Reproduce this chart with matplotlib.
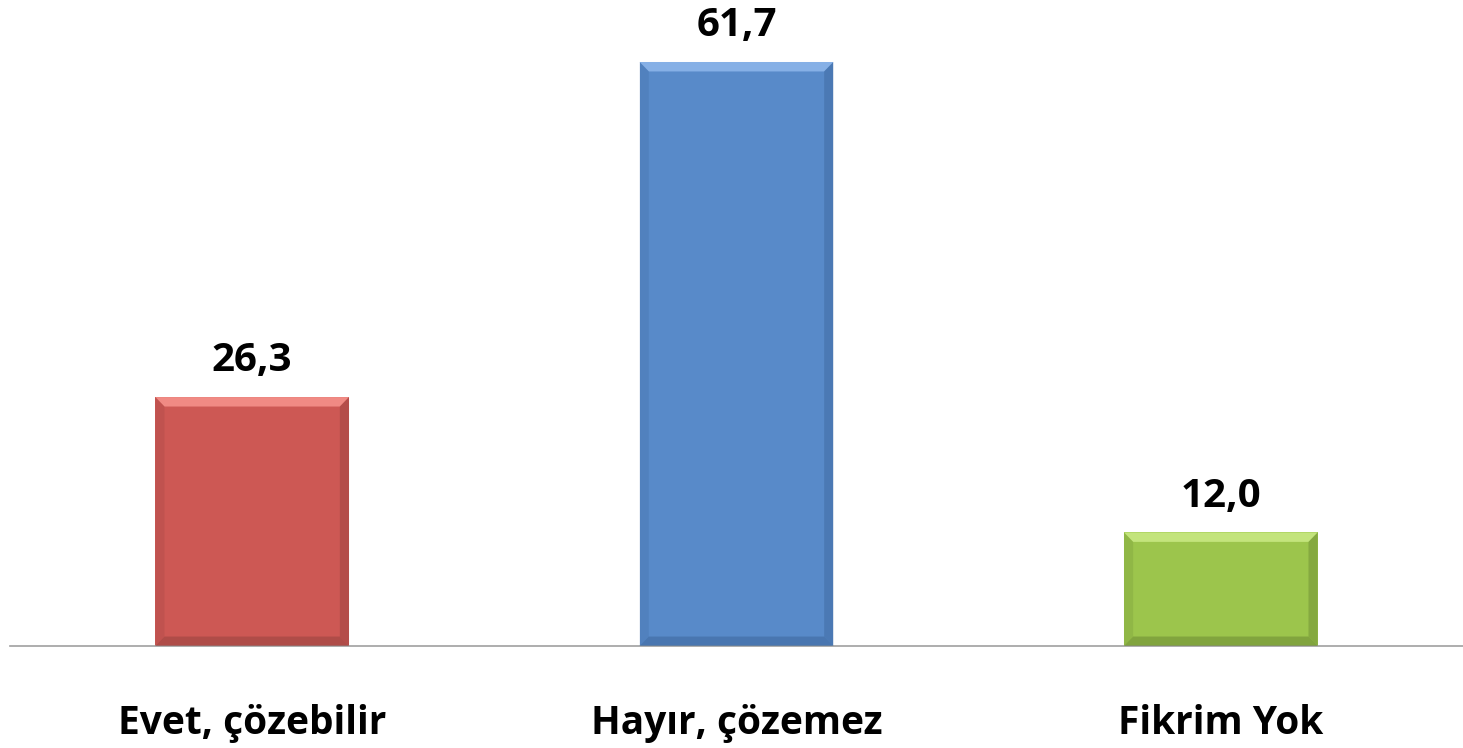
import matplotlib.pyplot as plt
from matplotlib.patches import Polygon
import numpy as np

# Veriler
categories = ["Evet, çözebilir", "Hayır, çözemez", "Fikrim Yok"]
values = [26.3, 61.7, 12.0]
labels = ["26,3", "61,7", "12,0"]
colors = ["#cd5854", "#588ac9", "#9cc54c"]
light = ["#f08a84", "#86b0e6", "#c3e47c"]
dark = ["#9c4441", "#3f6aa0", "#6f8e35"]

plt.rcParams['font.family'] = ['Open Sans', 'DejaVu Sans']

fig = plt.figure(figsize=(14.63, 7.48), dpi=100)
ax = fig.add_axes([10 / 1463, 102 / 748, 1 - 10 / 1463, 646 / 748])

x = np.arange(len(categories))
width = 0.4
bars = ax.bar(x, values, width=width, color=colors, zorder=2)
ax.set_xlim(-0.5, 2.5)
ax.set_ylim(0, 68.25)

# bevel efekti
bx = 0.019
by = 1.0
for i, b in enumerate(bars):
    x0 = b.get_x()
    x1 = x0 + b.get_width()
    h = b.get_height()
    # üst kenar (açık)
    ax.add_patch(Polygon([(x0, h), (x1, h), (x1 - bx, h - by), (x0 + bx, h - by)],
                         closed=True, color=light[i], lw=0, zorder=3))
    # alt kenar (koyu)
    ax.add_patch(Polygon([(x0, 0), (x1, 0), (x1 - bx, by), (x0 + bx, by)],
                         closed=True, color=dark[i], lw=0, alpha=0.6, zorder=3))
    # sağ kenar
    ax.add_patch(Polygon([(x1, 0), (x1, h), (x1 - bx, h - by), (x1 - bx, by)],
                         closed=True, color=dark[i], lw=0, alpha=0.5, zorder=3))
    # sol kenar
    ax.add_patch(Polygon([(x0, 0), (x0, h), (x0 + bx, h - by), (x0 + bx, by)],
                         closed=True, color=dark[i], lw=0, alpha=0.25, zorder=3))
    ax.annotate(labels[i], (b.get_x() + b.get_width() / 2, h), xytext=(0, 12),
                textcoords="offset points", ha="center", va="bottom",
                fontsize=29, fontweight="bold", color="black")

for s in ["top", "right", "left"]:
    ax.spines[s].set_visible(False)
ax.spines["bottom"].set_color("#a0a0a0")
ax.spines["bottom"].set_linewidth(1.2)
ax.set_yticks([])
ax.set_xticks(x)
ax.set_xticklabels(categories, fontsize=28, fontweight="bold")
ax.tick_params(axis="x", length=0, pad=42)

fig.savefig("out.png", dpi=100)
